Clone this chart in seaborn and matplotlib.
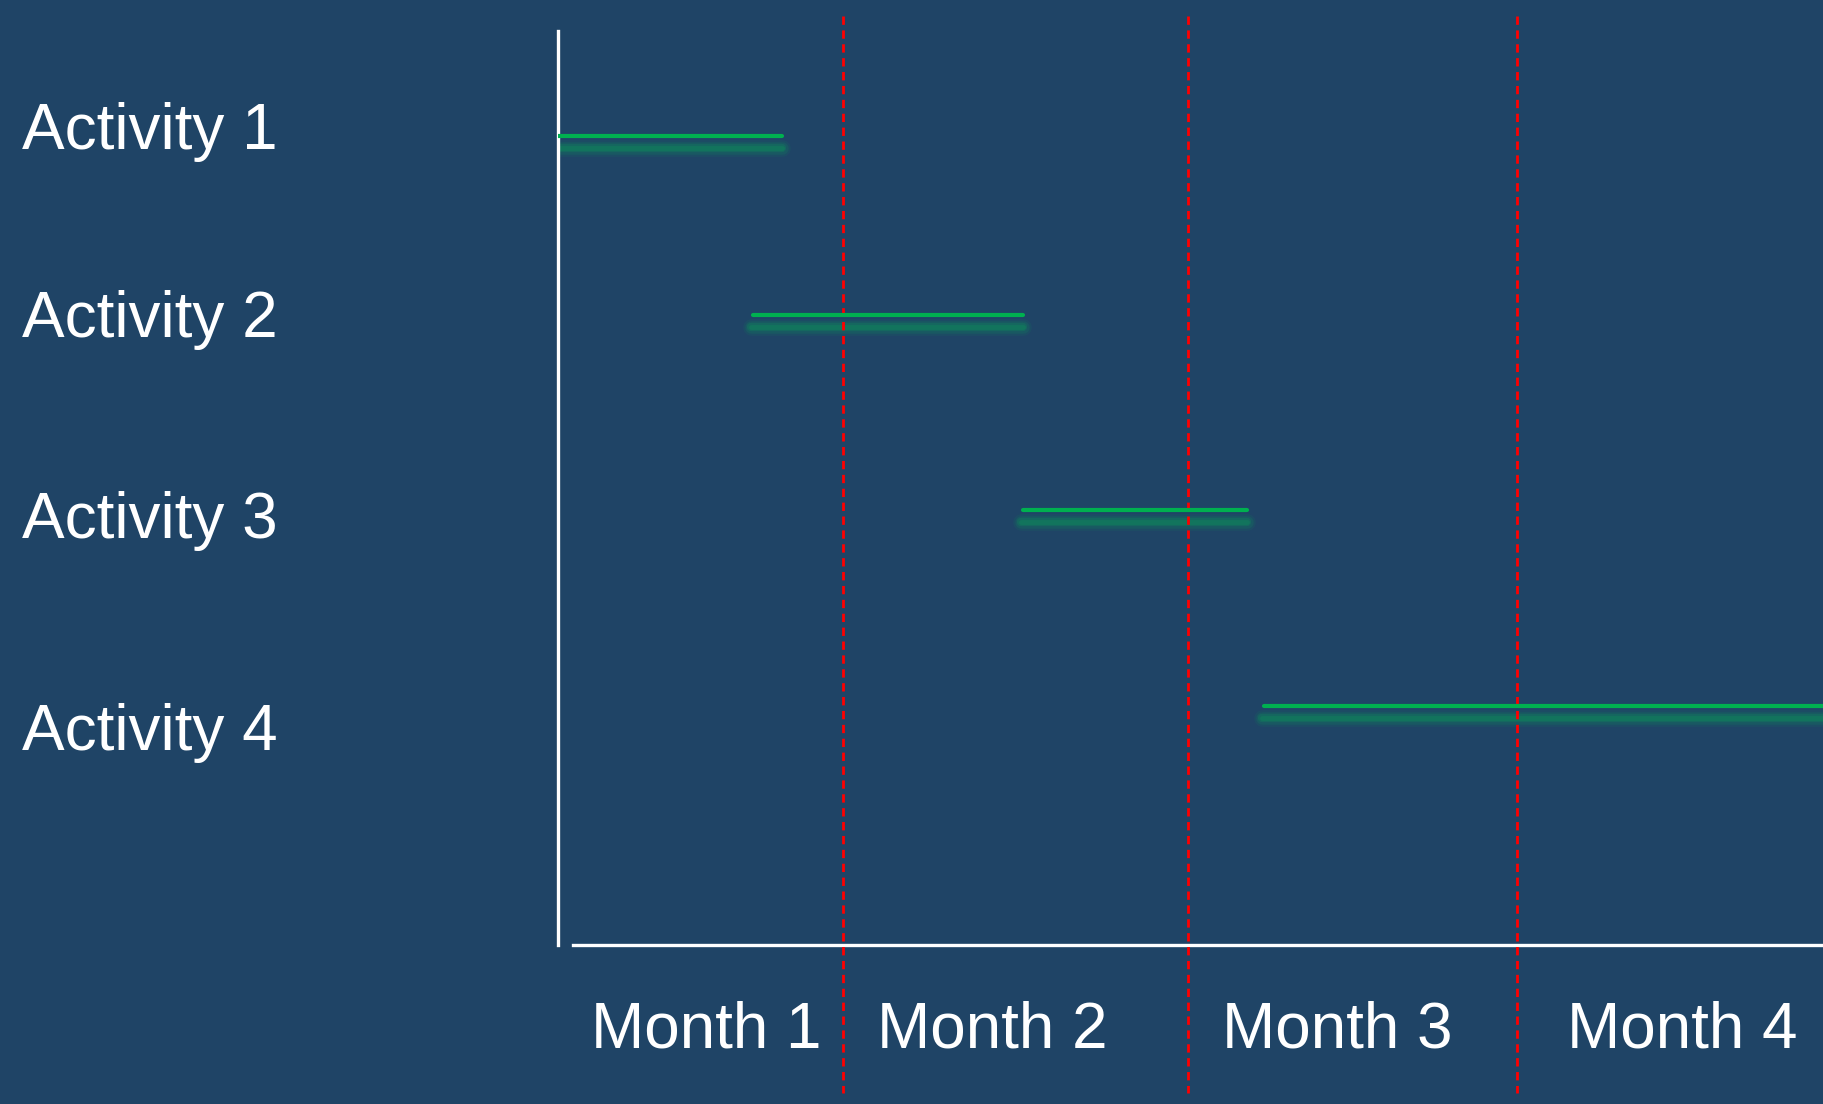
"""
plot.py - Gantt simple : 4 activites sur 4 mois
"""

import pandas as pd
import matplotlib.pyplot as plt
import seaborn as sns

# donnees (jours depuis le debut, lignes en unites de 100 px depuis le haut)
activities   = ["Activity 1", "Activity 2", "Activity 3", "Activity 4"]
start_day    = [0.0, 20.5, 49.0, 74.3]
end_day      = [23.6, 49.0, 72.5, 140.0]
bar_row      = [1.05, 2.84, 4.79, 6.75]
label_row    = [0.94, 2.82, 4.83, 6.95]

months       = ["Month 1", "Month 2", "Month 3", "Month 4"]
month_center = [15.6, 45.7, 82.1, 118.4]
month_edges  = [30.0, 66.3, 101.0]

BG    = "#1F4466"
GREEN = "#00B050"
RED   = "#FF0000"
WHITE = "#FFFFFF"

sns.set_theme(style="white")
plt.rcParams["font.family"] = ["Liberation Sans", "DejaVu Sans"]

fig = plt.figure(figsize=(18.23, 11.04), dpi=100, facecolor=BG)
ax = fig.add_axes([0.3061, 0.1440, 0.6939, 0.8279])
ax.set_facecolor(BG)

# format long pour seaborn
rows = []
for act, s, e, r in zip(activities, start_day, end_day, bar_row):
    rows.append({"activity": act, "day": s, "row": r})
    rows.append({"activity": act, "day": e, "row": r})
df = pd.DataFrame(rows)

# ombre floue sous chaque barre
for s, e, r in zip(start_day, end_day, bar_row):
    for lw, a in [(12, 0.12), (9, 0.20), (6, 0.30), (3.5, 0.38)]:
        ax.hlines(r + 0.12, s - 0.2, e, color="#0E8A5A", lw=lw, alpha=a,
                  capstyle="round", zorder=2)

sns.lineplot(data=df, x="day", y="row", units="activity", estimator=None,
             sort=False, color=GREEN, lw=3.0, ax=ax, zorder=4)

# separateurs de mois (depassent des axes)
ax.vlines(month_edges, -0.15, 10.62, colors=RED, lw=2.0,
          linestyles=(0, (3.0, 2.0)), clip_on=False, zorder=3)

ax.set_xlim(0, 133.2)
ax.set_ylim(9.14, 0)

ax.set_xticks(month_center, months)
ax.set_yticks(label_row, activities)
ax.tick_params(axis="x", length=0, pad=40, labelsize=46, labelcolor=WHITE)
ax.tick_params(axis="y", length=0, pad=386, labelsize=46, labelcolor=WHITE)
for lbl in ax.get_yticklabels():
    lbl.set_horizontalalignment("left")

ax.set_xlabel("")
ax.set_ylabel("")

for side in ["top", "right"]:
    ax.spines[side].set_visible(False)
ax.spines["left"].set_color(WHITE)
ax.spines["left"].set_linewidth(2.4)
ax.spines["bottom"].set_color(WHITE)
ax.spines["bottom"].set_linewidth(2.4)
ax.spines["bottom"].set_bounds(1.58, 133.2)

fig.savefig("out.png", dpi=100, facecolor=BG)
